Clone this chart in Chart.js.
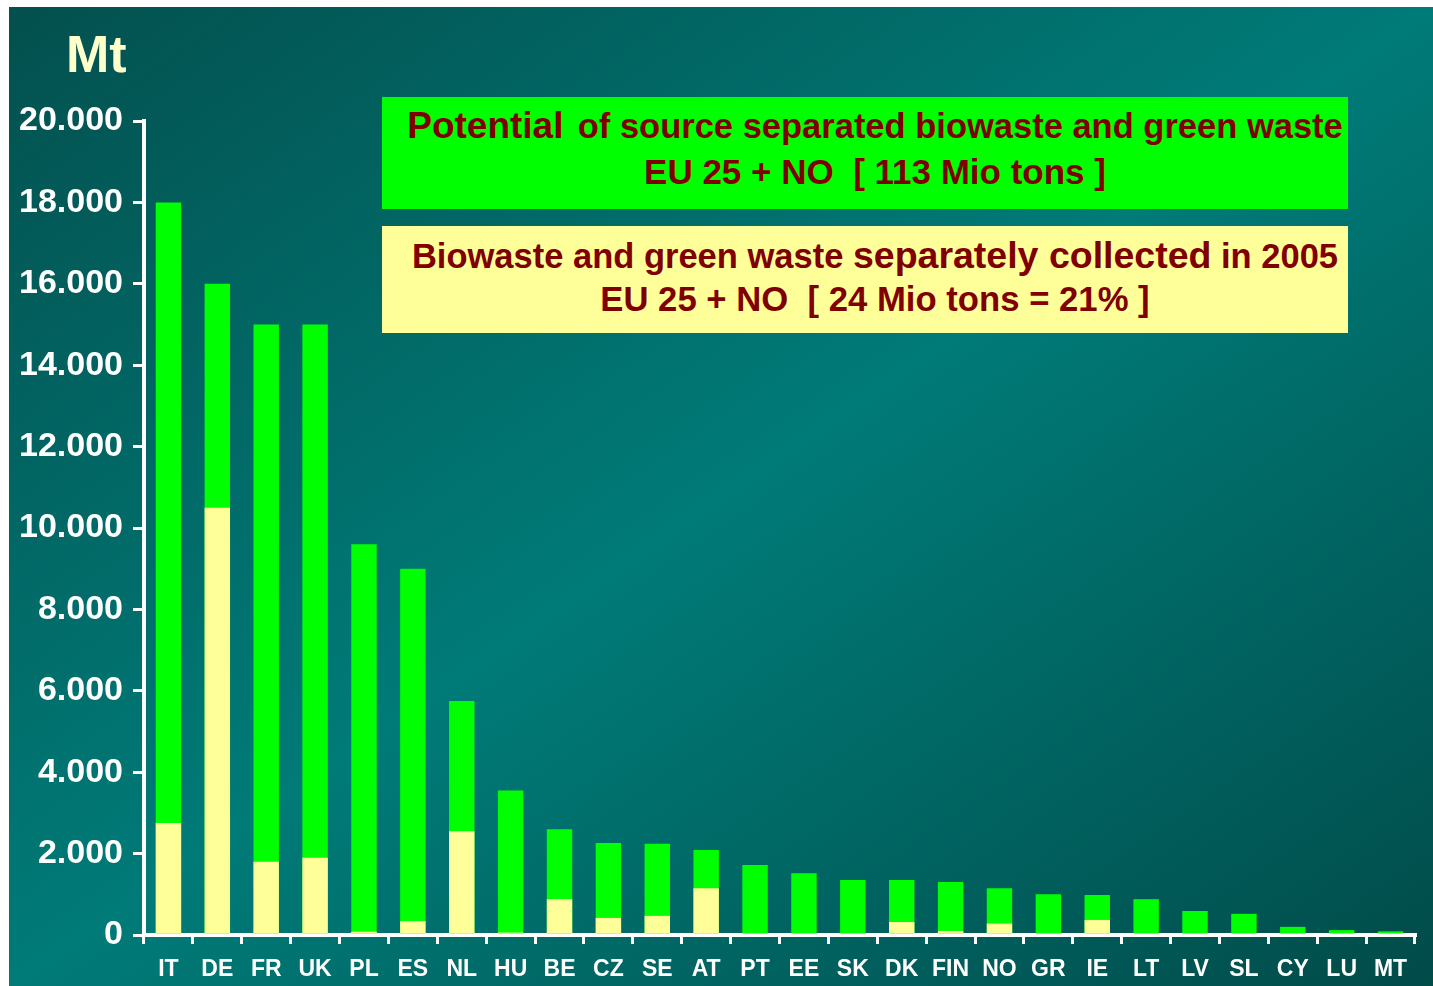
<!DOCTYPE html>
<html>
<head>
<meta charset="utf-8">
<script src="https://cdn.jsdelivr.net/npm/chart.js@4.4.1/dist/chart.umd.min.js"></script>
<style>
  body { margin: 0; background: #fff; width: 1433px; height: 986px; overflow: hidden; position: relative; }
  #panel {
    position: absolute; left: 9px; top: 7px; width: 1424px; height: 979px;
    background: linear-gradient(to bottom right, #03504e 0%, #007b78 50%, #014b49 100%);
  }
  #wrap { position: absolute; left: 0; top: 0; width: 1424px; height: 979px; }
  .lbl { position: absolute; font-family: "Liberation Sans", Arial, sans-serif; font-weight: bold; line-height: 1; white-space: pre; }
  #mt { left: 57px; top: 21px; font-size: 52px; color: #ffffcc; }
  .box { position: absolute; left: 373px; width: 966px; }
  .line { position: absolute; left: 20px; right: 0; text-align: center; color: #800000; }
</style>
</head>
<body>
<div id="panel">
  <div id="wrap"><canvas id="c"></canvas></div>
  <div class="lbl" id="mt">Mt</div>
  <div class="box" style="top:90px;height:112px;background:#00ff00;">
    <div class="lbl line" style="top:10px;font-size:37px;">Potential <span style="font-size:34.5px;margin-left:4px">of source separated biowaste and green waste</span></div>
    <div class="lbl line" style="top:57px;font-size:35px;">EU 25 + NO  [ 113 Mio tons ]</div>
  </div>
  <div class="box" style="top:219px;height:107px;background:#ffff99;">
    <div class="lbl line" style="top:11px;font-size:37.5px;"><span style="font-size:34.5px">Biowaste and green waste </span>separately collected<span style="font-size:34.5px"> in 2005</span></div>
    <div class="lbl line" style="top:56px;font-size:34.7px;">EU 25 + NO  [ 24 Mio tons = 21% ]</div>
  </div>
</div>
<script>
// countries, sorted by potential
var countries = ["IT","DE","FR","UK","PL","ES","NL","HU","BE","CZ","SE","AT","PT","EE","SK","DK","FIN","NO","GR","IE","LT","LV","SL","CY","LU","MT"];
// potential of source separated biowaste + green waste (kt)
var potential = [18000,16000,15000,15000,9600,9000,5750,3550,2600,2260,2240,2090,1720,1520,1350,1350,1300,1150,1000,980,880,590,520,200,120,90];
// separately collected in 2005 (kt)
var collected = [2750,10500,1800,1900,80,340,2550,60,880,420,470,1150,0,40,40,320,100,280,0,370,0,0,0,0,0,0];
var yTicks = [0,2000,4000,6000,8000,10000,12000,14000,16000,18000,20000];

function tickLabel(v) {
  if (v === 0) return "0";
  return (v / 1000) + ".000";
}

var font = "'Liberation Sans', Arial, sans-serif";
new Chart(document.getElementById("c"), {
  type: "bar",
  data: {
    labels: countries,
    datasets: [
      { label: "collected", data: collected, backgroundColor: "#ffff99", barPercentage: 0.52, categoryPercentage: 1 },
      { label: "potential", data: potential, backgroundColor: "#00ff00", barPercentage: 0.52, categoryPercentage: 1 }
    ]
  },
  options: {
    responsive: true,
    maintainAspectRatio: false,
    animation: false,
    layout: { padding: { top: 114, right: 18, left: 0, bottom: 0 } },
    plugins: { legend: { display: false }, tooltip: { enabled: false } },
    scales: {
      x: {
        stacked: true,
        grid: { display: true, drawOnChartArea: false, drawTicks: true, tickLength: 9, color: "#ffffff", lineWidth: 3 },
        border: { display: true, color: "#ffffff", width: 4 },
        ticks: { color: "#ffffff", font: { family: font, weight: "bold", size: 23 }, padding: 12, maxRotation: 0, autoSkip: false },
        afterFit: function(s) { s.height = 51; }
      },
      y: {
        stacked: false,
        min: 0, max: 20000,
        afterBuildTicks: function(s) { s.ticks = yTicks.map(function(v) { return { value: v }; }); },
        grid: { display: true, drawOnChartArea: false, drawTicks: true, tickLength: 11, color: "#ffffff", lineWidth: 3 },
        border: { display: true, color: "#ffffff", width: 4 },
        ticks: { color: "#ffffff", font: { family: font, weight: "bold", size: 34 }, padding: 10, callback: function(v) { return tickLabel(v); } },
        afterFit: function(s) { s.width = 135; }
      }
    }
  }
});
</script>
</body>
</html>
